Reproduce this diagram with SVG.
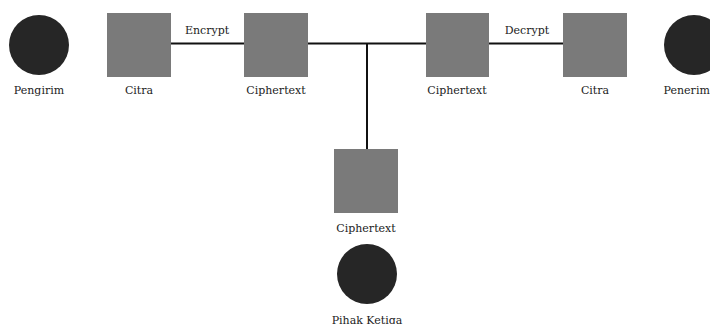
<svg xmlns="http://www.w3.org/2000/svg" width="710" height="324" viewBox="0 0 710 324">
<style>
.sq{fill:#7a7a7a}
.ci{fill:#262626}
.t{font-family:"DejaVu Serif","Liberation Serif",serif;font-size:11px;fill:#222;text-anchor:middle}
.ln{stroke:#111;stroke-width:2;fill:none}
</style>
<rect width="710" height="324" fill="#fff"/>
<g id="connectors">
<line class="ln" x1="171" y1="43.5" x2="244" y2="43.5"/>
<line class="ln" x1="308" y1="43.5" x2="426" y2="43.5"/>
<line class="ln" x1="488" y1="43.5" x2="563" y2="43.5"/>
<line class="ln" x1="367" y1="43.5" x2="367" y2="149"/>
<text class="t" x="207" y="34">Encrypt</text>
<text class="t" x="527" y="34">Decrypt</text>
</g>
<g id="pengirim"><circle class="ci" cx="39" cy="45" r="30"/><text class="t" x="39" y="94">Pengirim</text></g>
<g id="citra1"><rect class="sq" x="107" y="13" width="64" height="64"/><text class="t" x="139" y="94">Citra</text></g>
<g id="cipher1"><rect class="sq" x="244" y="13" width="64" height="64"/><text class="t" x="276" y="94">Ciphertext</text></g>
<g id="cipher2"><rect class="sq" x="426" y="13" width="63" height="64"/><text class="t" x="457" y="94">Ciphertext</text></g>
<g id="citra2"><rect class="sq" x="563" y="13" width="64" height="64"/><text class="t" x="595" y="94">Citra</text></g>
<g id="penerima"><circle class="ci" cx="694" cy="45" r="30"/><text class="t" x="690" y="94">Penerima</text></g>
<g id="cipher3"><rect class="sq" x="334" y="149" width="64" height="64"/><text class="t" x="366" y="232">Ciphertext</text></g>
<g id="pihak"><circle class="ci" cx="367" cy="274" r="30"/><text class="t" x="367" y="324">Pihak Ketiga</text></g>
</svg>
